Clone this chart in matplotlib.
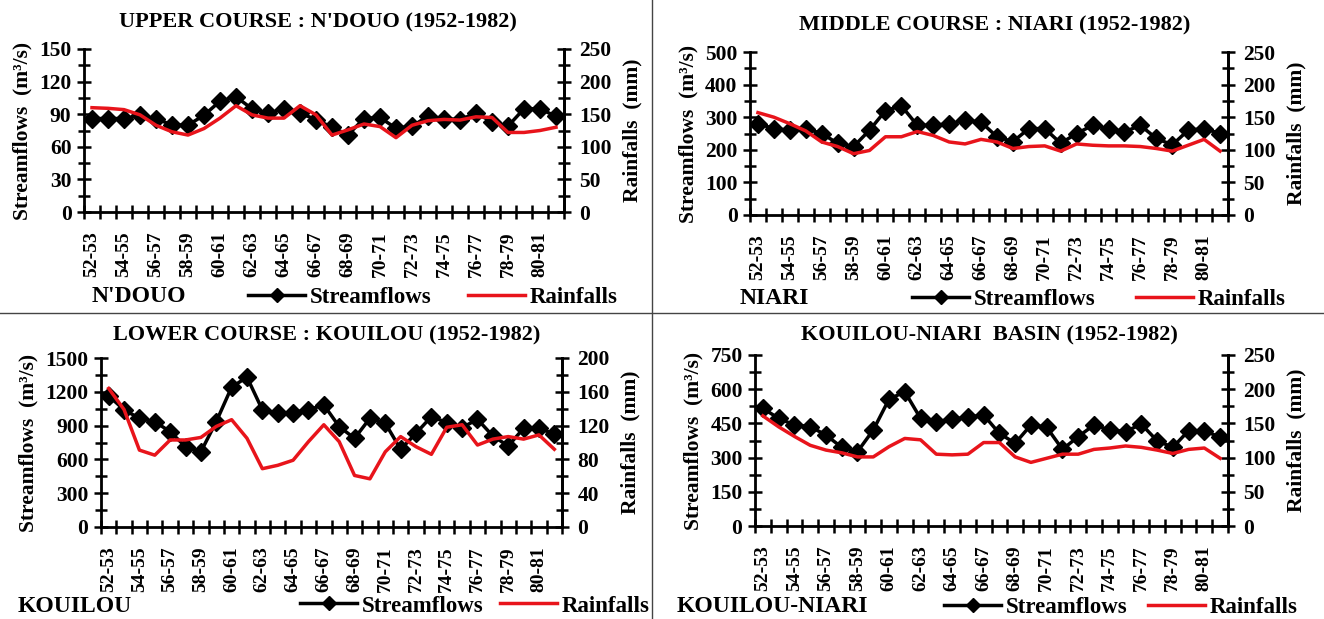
import matplotlib
matplotlib.use('Agg')
import matplotlib.pyplot as plt
from matplotlib.lines import Line2D

plt.rcParams['font.family'] = ['Liberation Serif', 'DejaVu Serif']
plt.rcParams['font.weight'] = 'bold'

years = ['52-53', '53-54', '54-55', '55-56', '56-57', '57-58', '58-59', '59-60', '60-61', '61-62',
         '62-63', '63-64', '64-65', '65-66', '66-67', '67-68', '68-69', '69-70', '70-71', '71-72',
         '72-73', '73-74', '74-75', '75-76', '76-77', '77-78', '78-79', '79-80', '80-81', '81-82']

# N'DOUO (upper course)
ndouo_flow = [86, 86, 86, 89, 86, 80, 80, 89, 102, 106, 95, 91, 95, 91, 85, 78, 71, 86, 87, 77,
              79, 88, 86, 85, 91, 83, 79, 95, 95, 88]
ndouo_rain = [160, 159, 157, 149, 133, 123, 118, 128, 144, 163, 149, 144, 144, 163, 149, 118, 126, 135, 131, 114,
              133, 140, 142, 141, 146, 145, 122, 122, 125, 130]

# NIARI (middle course)
niari_flow = [280, 265, 260, 265, 250, 220, 210, 260, 320, 335, 275, 275, 280, 290, 285, 240, 225, 265, 265, 220,
              250, 275, 265, 255, 275, 235, 215, 260, 265, 250]
niari_rain = [157, 150, 140, 129, 112, 105, 94, 99, 120, 120, 128, 122, 112, 109, 116, 112, 102, 105, 106, 98,
              109, 107, 106, 106, 105, 102, 98, 107, 116, 98]

# KOUILOU (lower course)
kouilou_flow = [1164, 1040, 965, 935, 846, 713, 668, 935, 1241, 1330, 1040, 1010, 1016, 1040, 1084, 891, 787, 965, 921, 689,
                832, 980, 927, 882, 956, 808, 719, 876, 876, 826]
kouilou_rain = [164, 139, 91, 85, 103, 103, 106, 119, 127, 105, 69, 73, 79, 101, 121, 101, 61, 57, 89, 107,
                95, 86, 118, 121, 97, 104, 107, 104, 109, 92]

# KOUILOU-NIARI basin
basin_flow = [516, 472, 443, 436, 399, 345, 326, 421, 556, 589, 472, 458, 468, 477, 487, 406, 363, 443, 433, 336,
              392, 443, 421, 414, 447, 374, 345, 418, 418, 389]
basin_rain = [161, 145, 131, 118, 111, 107, 101, 101, 116, 128, 126, 105, 104, 105, 122, 122, 101, 93, 99, 105,
              105, 112, 114, 117, 115, 111, 106, 112, 114, 99]

W, H = 1324, 619
fig = plt.figure(figsize=(W / 100, H / 100), dpi=100)

YFS = 15.5   # y tick labels
XFS = 14     # x tick labels
LFS = 15.5   # axis labels
RED = '#e8141b'


def px(l, t, r, b):
    return [l / W, 1 - b / H, (r - l) / W, (b - t) / H]


def panel(rect, flow, rain, fmax, rmax, title, title_xy, name, name_xy, leg_s, leg_r, leg_y):
    ax = fig.add_axes(px(*rect))
    x = list(range(len(years)))
    ax.plot(x, flow, color='black', lw=2.5, marker='D', ms=9, zorder=3)
    ax.set_xlim(-0.5, len(years) - 0.5)
    ax.set_ylim(0, fmax)
    ax.set_yticks([fmax / 5 * i for i in range(6)])
    ax.set_yticks([fmax / 10 * (2 * i + 1) for i in range(5)], minor=True)
    ax.set_yticklabels([str(int(fmax / 5 * i)) for i in range(6)], fontsize=YFS, fontweight='bold')
    ax.set_xticks(x[::2])
    ax.set_xticklabels(years[::2], rotation=90, fontsize=XFS, fontweight='bold')
    ax.set_xticks([i - 0.5 for i in range(len(years) + 1)], minor=True)
    ax.tick_params(axis='x', which='major', length=0, pad=14)
    ax.tick_params(axis='x', which='minor', direction='inout', length=10, width=1.8)
    ax.tick_params(axis='y', which='major', direction='inout', length=10, width=1.8, pad=4)
    ax.tick_params(axis='y', which='minor', direction='inout', length=8, width=1.8)
    ax.set_ylabel('Streamflows  (m³/s)', fontsize=LFS, fontweight='bold', labelpad=5)
    for s in ['left', 'bottom', 'right']:
        ax.spines[s].set_linewidth(2)
    ax.spines['top'].set_visible(False)

    ax2 = ax.twinx()
    ax2.plot(x, rain, color=RED, lw=2.5)
    ax2.set_ylim(0, rmax)
    ax2.set_yticks([rmax / 5 * i for i in range(6)])
    ax2.set_yticks([rmax / 10 * (2 * i + 1) for i in range(5)], minor=True)
    ax2.set_yticklabels([str(int(rmax / 5 * i)) for i in range(6)], fontsize=YFS, fontweight='bold')
    ax2.tick_params(axis='y', which='major', direction='inout', length=10, width=1.8, pad=6)
    ax2.tick_params(axis='y', which='minor', direction='inout', length=8, width=1.8)
    ax2.set_ylabel('Rainfalls  (mm)', fontsize=LFS, fontweight='bold', labelpad=8)
    ax2.spines['right'].set_linewidth(2)
    ax2.spines['top'].set_visible(False)

    fig.text(title_xy[0] / W, 1 - title_xy[1] / H, title, ha='center', va='center',
             fontsize=16, fontweight='bold')
    fig.text(name_xy[0] / W, 1 - name_xy[1] / H, name, ha='left', va='center',
             fontsize=17, fontweight='bold')
    lkw = dict(ncol=1, frameon=False, loc='center left', bbox_transform=fig.transFigure,
               prop={'size': 16.5, 'weight': 'bold'}, handlelength=2.5, handletextpad=0.2,
               borderpad=0, borderaxespad=0)
    leg1 = ax2.legend([Line2D([], [], color='black', lw=2.5, marker='D', ms=7)], ['Streamflows'],
                      bbox_to_anchor=(leg_s / W, 1 - leg_y / H), **lkw)
    ax2.add_artist(leg1)
    ax2.legend([Line2D([], [], color=RED, lw=2.5)], ['Rainfalls'],
               bbox_to_anchor=(leg_r / W, 1 - leg_y / H), **lkw)


panel((84, 49, 564, 212), ndouo_flow, ndouo_rain, 150, 250,
      "UPPER COURSE : N'DOUO (1952-1982)", (318, 22), "N'DOUO", (92, 297), 248, 468, 297)
panel((750, 52, 1228, 215), niari_flow, niari_rain, 500, 250,
      "MIDDLE COURSE : NIARI (1952-1982)", (995, 25), "NIARI", (740, 299), 912, 1136, 299)
panel((101, 358, 562, 527), kouilou_flow, kouilou_rain, 1500, 200,
      "LOWER COURSE : KOUILOU (1952-1982)", (327, 335), "KOUILOU", (18, 607), 300, 500, 606)
panel((755, 355, 1228, 526), basin_flow, basin_rain, 750, 250,
      "KOUILOU-NIARI  BASIN (1952-1982)", (989, 335), "KOUILOU-NIARI", (677, 607), 944, 1148, 607)

fig.add_artist(Line2D([652 / W, 652 / W], [0, 1], color='#444444', lw=1))
fig.add_artist(Line2D([0, 1], [1 - 313 / H, 1 - 313 / H], color='#444444', lw=1))

fig.savefig('out.png', dpi=100)
